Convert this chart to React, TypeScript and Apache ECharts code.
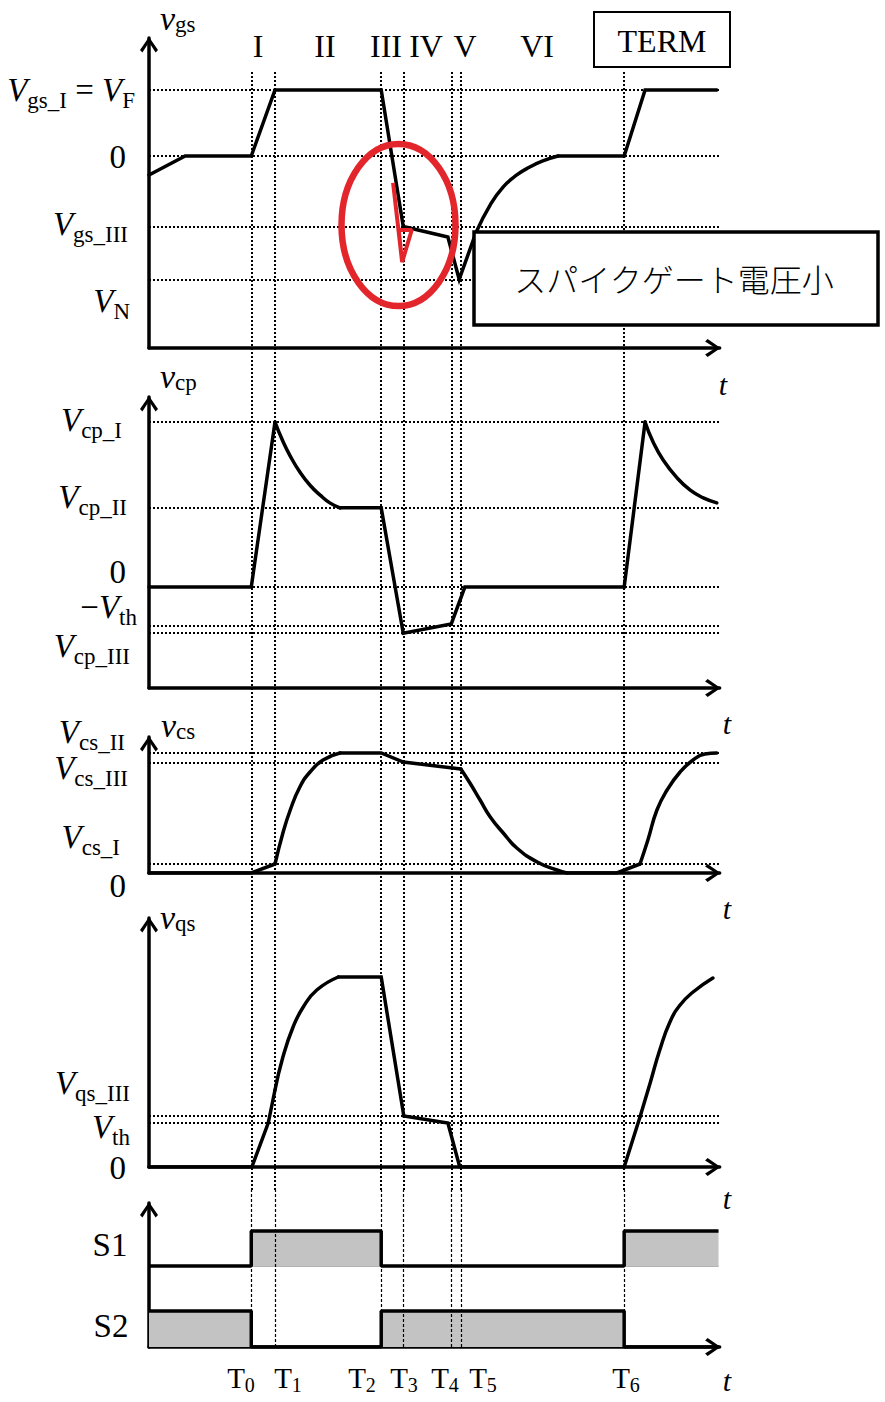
import React, { useEffect, useRef } from 'react';
import * as echarts from 'echarts';

// ---------- data (time in arbitrary units, voltages in arbitrary units) ----------
const T_MARKS = [18.1, 22.3, 41.1, 45.0, 53.5, 55.2, 84.1];
const T_SUBS = ['0', '1', '2', '3', '4', '5', '6'];
const REGION_LABELS = ['I', 'II', 'III', 'IV', 'V', 'VI'];

// v_gs
const VGS_LEVELS = [15, 0, -16.1, -28]; // VF, 0, Vgs_III, VN
const VGS_A = [[0, -4.3], [6.4, 0], [18.1, 0], [22.3, 15], [41.1, 15], [45.0, -16], [52.9, -18.4], [54.9, -28], [57.9, -17.3]];
const VGS_CURVE = [[57.9, -17.3], [60.4, -11.1], [62.7, -7.0], [65.1, -4.3], [67.4, -2.5], [69.7, -1.1], [72.4, 0]];
const VGS_B = [[72.4, 0], [84.1, 0], [87.8, 15], [100.5, 15]];
const VGS_SPIKE = [[43.2, -6.1], [44.8, -24.1], [46.5, -16.8], [44.2, -16.8], [44.8, -24.1]];

// v_cp
const VCP_LEVELS = [30, 14.4, 0, -7.1, -8.4]; // Vcp_I, Vcp_II, 0, -Vth, Vcp_III
const VCP_A = [[0, 0], [18.1, 0], [22.3, 30]];
const VCP_DECAY1 = [[22.3, 30], [23.7, 26.5], [25.0, 23.8], [26.7, 20.9], [28.5, 18.5], [30.3, 16.7], [32.0, 15.3], [33.8, 14.4]];
const VCP_B = [[33.8, 14.4], [41.1, 14.4], [45.0, -8.4], [53.5, -6.7], [55.9, 0], [84.1, 0], [87.8, 30]];
const VCP_DECAY2 = [[87.8, 30], [89.2, 26.4], [91.0, 23.1], [93.5, 19.8], [95.8, 17.6], [98.1, 16.2], [100.5, 15.3]];

// v_cs
const VCS_LEVELS = [30, 27.5, 2.25]; // Vcs_II, Vcs_III, Vcs_I
const VCS_A = [[0, 0], [18.1, 0], [22.3, 2.25]];
const VCS_RISE1 = [[22.3, 2.25], [23.7, 10], [25.0, 15.75], [26.7, 21.5], [28.5, 25.25], [30.8, 28.25], [33.8, 30]];
const VCS_B = [[33.8, 30], [41.1, 30], [45.0, 27.75], [55.2, 26]];
const VCS_FALL = [[55.2, 26], [56.8, 22.5], [58.6, 18.25], [60.4, 14], [62.7, 10], [65.1, 6.25], [68.7, 2.75], [72.2, 0.75], [74.0, 0]];
const VCS_C = [[74.0, 0], [82.8, 0], [86.9, 2.25]];
const VCS_RISE2 = [[86.9, 2.25], [88.3, 8.25], [89.9, 15.75], [91.7, 20.75], [94.0, 25.25], [96.3, 28.25], [98.4, 29.75], [100.5, 30]];

// v_qs
const VQS_LEVELS = [10.2, 8.8]; // Vqs_III, Vth
const VQS_A = [[0, 0], [18.2, 0], [21.1, 8.8], [22.3, 15.4]];
const VQS_RISE1 = [[22.3, 15.4], [23.7, 22], [25.5, 28], [27.3, 32], [29.7, 35.4], [33.5, 38]];
const VQS_B = [[33.5, 38], [41.1, 38], [45.1, 10.2], [52.9, 8.8], [55.0, 0], [84.1, 0], [86.9, 10]];
const VQS_RISE2 = [[86.9, 10], [88.7, 16.8], [90.4, 23.4], [92.2, 29], [94.0, 32.4], [96.3, 35], [99.8, 37.8]];

// switch states
const S1_LOW = 2.25;
const S1 = [[0, 2.25], [18.1, 2.25], [18.1, 3.22], [41.1, 3.22], [41.1, 2.25], [84.1, 2.25], [84.1, 3.22], [100.8, 3.22]];
const S2 = [[0, 1], [18.1, 1], [18.1, 0], [41.1, 0], [41.1, 1], [84.1, 1], [84.1, 0], [100.8, 0]];

// ---------- styling ----------
const SERIF = '"Liberation Serif", "Times New Roman", serif';
const CJK = '"Noto Sans CJK JP", sans-serif';
const RED = '#e3262b';
const ARROW = 'path://M9,0 L18,13 L15.6,15.5 L9,5.2 L2.4,15.5 L0,13 Z';

const GRID_LEFT = 149;
const GRID_WIDTH = 570.65;
const X_MAX = 101;

const PANELS = [
  { top: 38, height: 310, min: -43.6, max: 26.8 },
  { top: 397, height: 291, min: -18.36, max: 34.55 },
  { top: 737, height: 136, min: 0, max: 34 },
  { top: 918, height: 249, min: 0, max: 49.8 },
  { top: 1203, height: 144, min: 0, max: 4 },
];
const OVERLAYS = [
  { top: 70, height: 1120 },
  { top: 1190, height: 157 },
];

const RICH: any = {
  m: { fontFamily: SERIF, fontStyle: 'italic', fontSize: 33, lineHeight: 43, color: '#000' },
  n: { fontFamily: SERIF, fontSize: 33, lineHeight: 43, color: '#000' },
  s: { fontFamily: SERIF, fontSize: 23, lineHeight: 23, padding: [20, 0, 0, 0], color: '#000' },
  tm: { fontFamily: SERIF, fontStyle: 'italic', fontSize: 34, lineHeight: 32, color: '#000' },
  ts: { fontFamily: SERIF, fontSize: 23, lineHeight: 20, padding: [12, 0, 0, 0], color: '#000' },
  T: { fontFamily: SERIF, fontSize: 29, lineHeight: 34, color: '#000' },
  Ts: { fontFamily: SERIF, fontSize: 20, lineHeight: 20, padding: [14, 0, 0, 0], color: '#000' },
};

function txt(text: string, x: number, y: number, align: string, extra: any = {}) {
  return {
    type: 'text', x, y, z: 100, silent: true,
    style: { text, rich: RICH, align, textAlign: align, verticalAlign: 'middle', textVerticalAlign: 'middle', fill: '#000', ...extra },
  };
}

function axisLineCfg() {
  return {
    show: true, onZero: false,
    symbol: ['none', ARROW], symbolSize: [18, 15.5], symbolOffset: [0, -6.8],
    lineStyle: { color: '#000', width: 3.5 },
  };
}

function buildOption() {
  const grids: any[] = [];
  const xAxes: any[] = [];
  const yAxes: any[] = [];
  const all = [...PANELS.map((p) => ({ ...p, overlay: false })), ...OVERLAYS.map((o) => ({ ...o, min: 0, max: 1, overlay: true }))];
  all.forEach((p, i) => {
    grids.push({ left: GRID_LEFT, width: GRID_WIDTH, top: p.top, height: p.height, containLabel: false });
    xAxes.push({
      type: 'value', gridIndex: i, min: 0, max: X_MAX,
      axisLine: p.overlay ? { show: false } : axisLineCfg(),
      axisTick: { show: false }, axisLabel: { show: false }, splitLine: { show: false },
    });
    yAxes.push({
      type: 'value', gridIndex: i, min: p.min, max: p.max,
      axisLine: p.overlay ? { show: false } : axisLineCfg(),
      axisTick: { show: false }, axisLabel: { show: false }, splitLine: { show: false },
    });
  });

  const levelLines = (levels: number[]) => ({
    silent: true, symbol: ['none', 'none'], label: { show: false }, animation: false,
    lineStyle: { color: '#000', type: [2, 2], width: 2 },
    emphasis: { disabled: true },
    data: levels.map((v) => ({ yAxis: v })),
  });
  const wave = (i: number, data: number[][], smooth: boolean, levels?: number[]) => ({
    type: 'line', xAxisIndex: i, yAxisIndex: i, data, showSymbol: false, symbol: 'none', z: 3,
    smooth: smooth ? 0.5 : false,
    lineStyle: { color: '#000', width: 3.5, cap: 'round', join: 'miter' }, silent: true,
    markLine: levels && levels.length ? levelLines(levels) : undefined,
  });

  const series: any[] = [
    wave(0, VGS_A, false, VGS_LEVELS),
    wave(0, VGS_CURVE, true),
    wave(0, VGS_B, false),
    {
      type: 'line', xAxisIndex: 0, yAxisIndex: 0, data: VGS_SPIKE, showSymbol: false, symbol: 'none', z: 6,
      lineStyle: { color: RED, width: 4 }, silent: true,
    },
    wave(1, VCP_A, false, VCP_LEVELS),
    wave(1, VCP_DECAY1, true),
    wave(1, VCP_B, false),
    wave(1, VCP_DECAY2, true),
    wave(2, VCS_A, false, VCS_LEVELS),
    wave(2, VCS_RISE1, true),
    wave(2, VCS_B, false),
    wave(2, VCS_FALL, true),
    wave(2, VCS_C, false),
    wave(2, VCS_RISE2, true),
    wave(3, VQS_A, false, VQS_LEVELS),
    wave(3, VQS_RISE1, true),
    wave(3, VQS_B, false),
    wave(3, VQS_RISE2, true),
    {
      type: 'line', xAxisIndex: 4, yAxisIndex: 4, data: [[0, S1_LOW], [X_MAX - 0.2, S1_LOW]], showSymbol: false, symbol: 'none', z: 1,
      lineStyle: { color: '#666', width: 1.2 }, silent: true,
    },
    {
      type: 'line', xAxisIndex: 4, yAxisIndex: 4, data: S1, showSymbol: false, symbol: 'none', z: 2,
      lineStyle: { color: '#000', width: 3.5 }, areaStyle: { color: '#c3c3c3', opacity: 1, origin: S1_LOW }, silent: true,
    },
    {
      type: 'line', xAxisIndex: 4, yAxisIndex: 4, data: S2, showSymbol: false, symbol: 'none', z: 2,
      lineStyle: { color: '#000', width: 3.5 }, areaStyle: { color: '#c3c3c3', opacity: 1, origin: 0 }, silent: true,
    },
  ];
  [5, 6].forEach((gi, k) => {
    series.push({
      type: 'line', xAxisIndex: gi, yAxisIndex: gi, data: [[0, 0]], showSymbol: false, symbol: 'none', z: 4,
      lineStyle: { opacity: 0, width: 0 }, silent: true,
      markLine: {
        silent: true, symbol: ['none', 'none'], label: { show: false }, animation: false,
        lineStyle: k === 0 ? { color: '#000', type: [2, 2], width: 2 } : { color: '#000', type: [3, 2], width: 1.2 },
        data: T_MARKS.map((t) => ({ xAxis: t })),
      },
    });
  });

  const regionX = [258, 325, 386, 426, 465, 537];
  const tX = [241, 288, 362, 404, 445, 483, 626];

  const graphics: any[] = [
    // region labels
    ...REGION_LABELS.map((l, i) => txt(l, regionX[i], 46, 'center', { fontFamily: SERIF, fontSize: 32 })),
    // TERM box
    { type: 'rect', z: 99, silent: true, shape: { x: 594, y: 12, width: 136, height: 55 }, style: { fill: '#fff', stroke: '#000', lineWidth: 2 } },
    txt('TERM', 662, 41, 'center', { fontFamily: SERIF, fontSize: 32 }),
    // red ellipse
    { type: 'ellipse', z: 98, silent: true, shape: { cx: 398.5, cy: 225, rx: 57, ry: 81 }, style: { fill: 'none', stroke: RED, lineWidth: 6.5 } },
    // callout box
    { type: 'rect', z: 99, silent: true, shape: { x: 474, y: 232, width: 404, height: 93 }, style: { fill: '#fff', stroke: '#000', lineWidth: 3.5 } },
    txt('スパイクゲート電圧小', 674, 278, 'center', { fontFamily: CJK, fontSize: 32, fontWeight: 300 }),
    // axis titles
    txt('{tm|v}{ts|gs}', 160, 18, 'left'),
    txt('{tm|v}{ts|cp}', 160, 376, 'left'),
    txt('{tm|v}{ts|cs}', 161, 725, 'left'),
    txt('{tm|v}{ts|qs}', 160, 917, 'left'),
    // panel 1 labels
    txt('{m|V}{s|gs_I}{n| = }{m|V}{s|F}', 135, 90, 'right'),
    txt('{n|0}', 126, 157, 'right'),
    txt('{m|V}{s|gs_III}', 128, 224, 'right'),
    txt('{m|V}{s|N}', 130, 301, 'right'),
    // panel 2 labels
    txt('{m|V}{s|cp_I}', 122, 420, 'right'),
    txt('{m|V}{s|cp_II}', 127, 497, 'right'),
    txt('{n|0}', 126, 572, 'right'),
    txt('{n|−}{m|V}{s|th}', 137, 607, 'right'),
    txt('{m|V}{s|cp_III}', 130, 646, 'right'),
    // panel 3 labels
    txt('{m|V}{s|cs_II}', 125, 732, 'right'),
    txt('{m|V}{s|cs_III}', 128, 768, 'right'),
    txt('{m|V}{s|cs_I}', 120, 837, 'right'),
    txt('{n|0}', 126, 886, 'right'),
    // panel 4 labels
    txt('{m|V}{s|qs_III}', 130, 1083, 'right'),
    txt('{m|V}{s|th}', 130, 1127, 'right'),
    txt('{n|0}', 126, 1168, 'right'),
    // switch labels
    txt('S1', 110, 1245, 'center', { fontFamily: SERIF, fontSize: 33 }),
    txt('S2', 111, 1326, 'center', { fontFamily: SERIF, fontSize: 33 }),
    // t labels
    ...[[723, 384], [727, 723], [727, 908], [727, 1198], [727, 1380]].map(([x, y]) =>
      txt('t', x, y, 'center', { fontFamily: SERIF, fontStyle: 'italic', fontSize: 30 })),
    // T labels
    ...T_SUBS.map((s, i) => txt(`{T|T}{Ts|${s}}`, tX[i], 1378, 'center')),
  ];

  return {
    animation: false,
    backgroundColor: '#fff',
    grid: grids,
    xAxis: xAxes,
    yAxis: yAxes,
    series,
    graphic: { elements: graphics },
  };
}

export default function App() {
  const ref = useRef<HTMLDivElement>(null);
  useEffect(() => {
    const chart = echarts.init(ref.current as HTMLDivElement, undefined, { renderer: 'svg' });
    chart.setOption(buildOption() as any);
    return () => chart.dispose();
  }, []);
  return (
    <div
      ref={ref}
      style={{ position: 'absolute', left: 0, top: 0, width: 885, height: 1402, background: '#fff' }}
    />
  );
}
